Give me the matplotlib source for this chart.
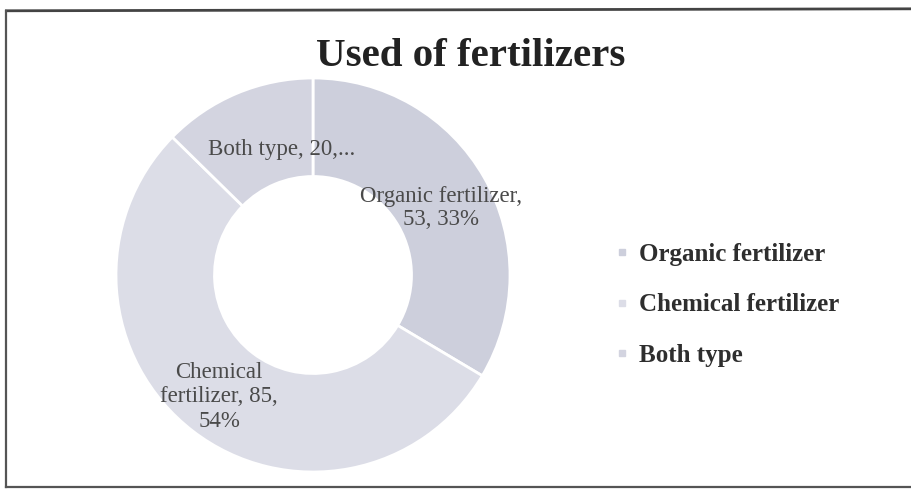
import numpy as np
import matplotlib
matplotlib.use("Agg")
import matplotlib.pyplot as plt
from matplotlib.lines import Line2D

# data
categories = ['Organic fertilizer', 'Chemical fertilizer', 'Both type']
counts = [53, 85, 20]
slice_labels = ['Organic fertilizer,\n53, 33%', 'Chemical\nfertilizer, 85,\n54%', 'Both type, 20,...']
colors = ['#cdcfdc', '#dcdde7', '#d3d4e0']

plt.rcParams['font.family'] = ['Liberation Serif', 'DejaVu Serif']

fig = plt.figure(figsize=(9.11, 4.9), dpi=100)
fig.patch.set_facecolor('white')

ax = fig.add_axes([116 / 911, 18 / 490, 394 / 911, 394 / 490])
wedges, _ = ax.pie(counts, colors=colors, startangle=90, counterclock=False,
                   radius=1.0, wedgeprops=dict(width=0.5, edgecolor='white', linewidth=2))
ax.set_xlim(-1, 1)
ax.set_ylim(-1, 1)
ax.set_aspect('equal')

# labels on the ring, at the middle angle of each slice
total = sum(counts)
start = 90.0
label_r = [0.75, 0.78, 0.64]
label_shift = [(0.0, -0.03), (0.0, 0.0), (0.09, 0.045)]
line_sp = [1.15, 1.22, 1.15]
for i, c in enumerate(counts):
    sweep = c / total * 360
    mid = np.deg2rad(start - sweep / 2)
    start -= sweep
    x = label_r[i] * np.cos(mid) + label_shift[i][0]
    y = label_r[i] * np.sin(mid) + label_shift[i][1]
    ax.text(x, y, slice_labels[i], ha='center', va='center', fontsize=16.5,
            color='#4a4a4a', linespacing=line_sp[i])

fig.text(0.517, 0.885, 'Used of fertilizers', ha='center', va='center',
         fontsize=29.5, fontweight='bold', color='#222222')

handles = [Line2D([], [], marker='s', linestyle='', markersize=4.5,
                  markerfacecolor=colors[i], markeredgecolor=colors[i]) for i in range(3)]
fig.legend(handles, categories, loc='center left', bbox_to_anchor=(0.651, 0.378),
           frameon=False, prop=dict(size=18, weight='bold'), labelcolor='#2e2e2e',
           handlelength=0.5, handletextpad=0.45, labelspacing=1.1)

# scanned frame around the chart
fig.add_artist(Line2D([0.007, 0.999], [0.978, 0.982], transform=fig.transFigure, color='#444444', lw=2))
fig.add_artist(Line2D([0.007, 0.007], [0.006, 0.978], transform=fig.transFigure, color='#555555', lw=1.6))
fig.add_artist(Line2D([0.007, 0.999], [0.006, 0.006], transform=fig.transFigure, color='#555555', lw=1.6))

fig.savefig('out.png', dpi=100)
